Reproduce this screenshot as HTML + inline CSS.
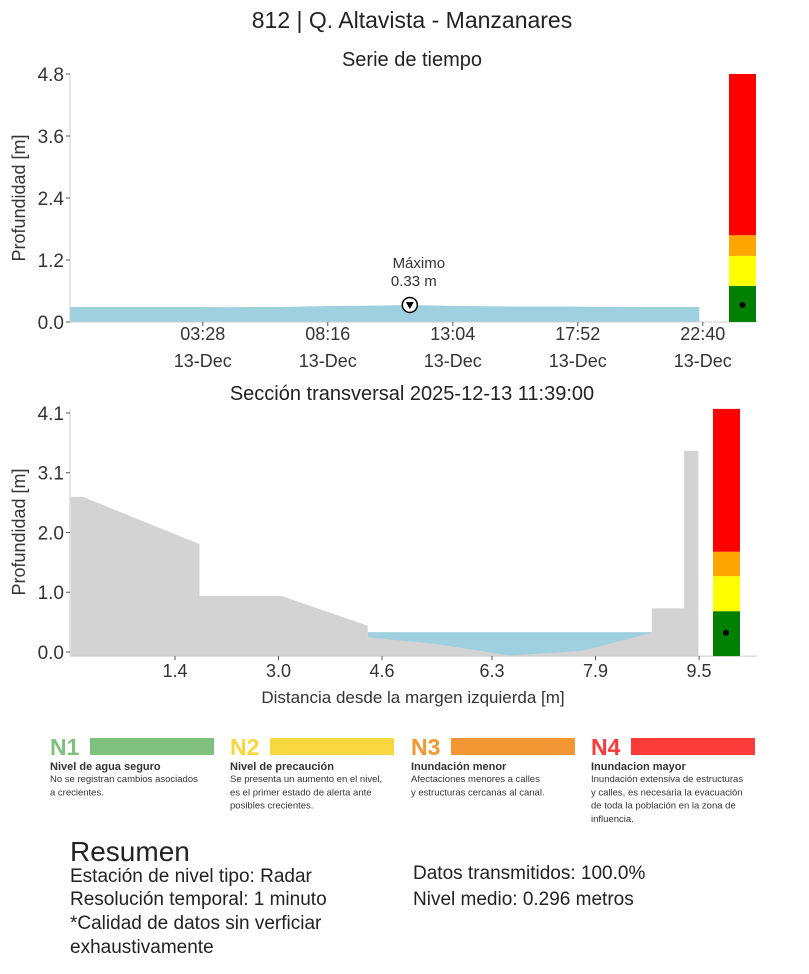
<!DOCTYPE html>
<html><head><meta charset="utf-8"><style>
body{margin:0;background:#fff;font-family:"Liberation Sans",sans-serif;}
svg text{font-family:"Liberation Sans",sans-serif;}
</style></head><body>
<svg id="s" width="809" height="969" xmlns="http://www.w3.org/2000/svg">
<text x="412" y="28" font-size="23" text-anchor="middle" fill="#222">812 | Q. Altavista - Manzanares</text>
<text x="412" y="66" font-size="20" text-anchor="middle" fill="#222">Serie de tiempo</text>
<text x="412" y="400" font-size="20" text-anchor="middle" fill="#222">Sección transversal 2025-12-13 11:39:00</text>
<text transform="translate(25,198) rotate(-90)" font-size="18" text-anchor="middle" fill="#333">Profundidad [m]</text>
<text transform="translate(25,532) rotate(-90)" font-size="18" text-anchor="middle" fill="#333">Profundidad [m]</text>
<text x="413" y="703" font-size="17" text-anchor="middle" fill="#333">Distancia desde la margen izquierda [m]</text>
<g id="topchart"></g>
<g id="botchart"></g>
<g id="legend"></g>
<g fill="#222">
<text x="70" y="861" font-size="28">Resumen</text>
<text x="70" y="882" font-size="19">Estación de nivel tipo: Radar</text>
<text x="70" y="905" font-size="19">Resolución temporal: 1 minuto</text>
<text x="70" y="929" font-size="19">*Calidad de datos sin verficiar</text>
<text x="70" y="953" font-size="19">exhaustivamente</text>
<text x="413" y="879" font-size="19">Datos transmitidos: 100.0%</text>
<text x="413" y="905" font-size="19">Nivel medio: 0.296 metros</text>
</g>
</svg>
<script>
// ---- time series data ----
const tsMinutes=[0,60,120,180,240,300,360,420,480,540,600,660,720,783,840,900,960,1020,1080,1140,1200,1260,1320,1380,1450];
const tsDepth=[0.29,0.29,0.29,0.29,0.29,0.29,0.285,0.29,0.29,0.30,0.31,0.315,0.32,0.33,0.32,0.31,0.305,0.30,0.30,0.30,0.295,0.295,0.29,0.29,0.29];
const tsTickMinutes=[306,594,882,1170,1458];
const tsTickLabels=["03:28","08:16","13:04","17:52","22:40"];
const topYTicks=[0,1.2,2.4,3.6,4.8];
const levelThresholds=[0,0.70,1.28,1.68,4.8];
const levelColors=["#008000","#ffff00","#ffa500","#ff0000"];
const currentLevel=0.33;
const maxValue=0.33, maxMinute=783;
// ---- cross section data ----
const groundX=[-0.21,-0.02,1.78,1.78,3.05,4.38,4.38,5.42,6.57,7.69,8.77,8.77,9.27,9.27,9.49,9.49];
const groundY=[2.66,2.66,1.85,0.96,0.96,0.45,0.25,0.14,-0.06,0.02,0.33,0.75,0.75,3.45,3.45,-0.07];
const waterLevel=0.34;
const waterFrom=4.38, waterTo=8.77;
const botXTicks=[1.4,3.0,4.6,6.3,7.9,9.5];
const botYTicks=[0,1.025,2.05,3.075,4.1];
const botYTickLabels=["0.0","1.0","2.0","3.1","4.1"];
const botLevels=[-0.07,0.70,1.30,1.72,4.17];

const NS="http://www.w3.org/2000/svg";
function mk(p,t,a){const el=document.createElementNS(NS,t);for(const k in a)el.setAttribute(k,a[k]);p.appendChild(el);return el;}
const tx=m=>70+m*0.434, ty=v=>322-v*51.67;
const topG=document.getElementById('topchart');
let d="M"+tx(tsMinutes[0])+","+ty(0);
tsMinutes.forEach((m,i)=>{d+=" L"+tx(m)+","+ty(tsDepth[i]);});
d+=" L"+tx(tsMinutes[tsMinutes.length-1])+","+ty(0)+"Z";
let el=mk(topG,'path',{d:d,fill:"#9ed0e0"});


el=mk(topG,'line',{x1:70,y1:ty(0),x2:757,y2:ty(0),stroke:"#ccc"});


el=mk(topG,'line',{x1:70,y1:ty(4.8),x2:70,y2:ty(0),stroke:"#ccc"});


topYTicks.forEach(v=>{
 mk(topG,'line',{x1:66,x2:70,y1:ty(v),y2:ty(v),stroke:"#555"});
 const t=mk(topG,'text',{x:64,y:ty(v)+7,"font-size":19,"text-anchor":"end",fill:"#333"});t.textContent=v.toFixed(1);
 
 
});
tsTickMinutes.forEach((m,i)=>{
 const x=tx(m);
 mk(topG,'line',{x1:x,x2:x,y1:ty(0),y2:ty(0)+4,stroke:"#555"});
 const t=mk(topG,'text',{x:x,y:340,"font-size":18,"text-anchor":"middle",fill:"#333"});t.textContent=tsTickLabels[i];
 
 
 const t2=mk(topG,'text',{x:x,y:367,"font-size":18,"text-anchor":"middle",fill:"#333"});t2.textContent="13-Dec";
 
 
});
for(let i=0;i<4;i++){
 const r=mk(topG,'rect',{x:729,width:27,y:ty(levelThresholds[i+1]),height:ty(levelThresholds[i])-ty(levelThresholds[i+1]),fill:levelColors[i]});
 
 
}
el=mk(topG,'circle',{cx:742.5,cy:ty(currentLevel),r:3,fill:"#000"});


const mx=tx(maxMinute), my=ty(maxValue);
el=mk(topG,'circle',{cx:mx,cy:my,r:7.5,fill:"#fff",stroke:"#000","stroke-width":1.5});


mk(topG,'path',{d:`M${mx-4},${my-3} L${mx+4},${my-3} L${mx},${my+4}Z`,fill:"#000"});
el=mk(topG,'text',{x:mx+9,y:my-37,"font-size":15,"text-anchor":"middle",fill:"#333"});el.textContent="Máximo";


el=mk(topG,'text',{x:mx+4,y:my-19,"font-size":15,"text-anchor":"middle",fill:"#333"});el.textContent=maxValue.toFixed(2)+" m";


// bottom
const bx=v=>84.4+v*64.7, by=v=>652-v*58.3;
const botG=document.getElementById('botchart');
el=mk(botG,'rect',{x:bx(waterFrom),y:by(waterLevel),width:bx(waterTo)-bx(waterFrom),height:by(-0.07)-by(waterLevel),fill:"#9ed0e0"});


d="M"+bx(groundX[0])+","+by(-0.07);
groundX.forEach((x,i)=>{d+=" L"+bx(x)+","+by(groundY[i]);});
d+="Z";
el=mk(botG,'path',{d:d,fill:"#d3d3d3"});


el=mk(botG,'line',{x1:70,y1:by(-0.07),x2:757,y2:by(-0.07),stroke:"#ccc"});


el=mk(botG,'line',{x1:70,y1:by(4.17),x2:70,y2:by(-0.07),stroke:"#ccc"});


botYTicks.forEach((v,i)=>{
 mk(botG,'line',{x1:66,x2:70,y1:by(v),y2:by(v),stroke:"#555"});
 const t=mk(botG,'text',{x:64,y:by(v)+7,"font-size":19,"text-anchor":"end",fill:"#333"});t.textContent=botYTickLabels[i];
 
 
});
botXTicks.forEach(v=>{
 const x=bx(v);
 mk(botG,'line',{x1:x,x2:x,y1:by(-0.07),y2:by(-0.07)+4,stroke:"#555"});
 const t=mk(botG,'text',{x:x,y:677,"font-size":18,"text-anchor":"middle",fill:"#333"});t.textContent=v.toFixed(1);
 
 
});
for(let i=0;i<4;i++){
 const r=mk(botG,'rect',{x:713,width:27,y:by(botLevels[i+1]),height:by(botLevels[i])-by(botLevels[i+1]),fill:levelColors[i]});
 
 
}
el=mk(botG,'circle',{cx:726,cy:by(currentLevel),r:3,fill:"#000"});


// legend
const legNames=["N1","N2","N3","N4"];
const legColors=["#7fc07f","#f8d83e","#f39634","#fb3a3a"];
const legTitles=["Nivel de agua seguro","Nivel de precaución","Inundación menor","Inundacion mayor"];
const legDesc=[["No se registran cambios asociados","a crecientes."],["Se presenta un aumento en el nivel,","es el primer estado de alerta ante","posibles crecientes."],["Afectaciones menores a calles","y estructuras cercanas al canal."],["Inundación extensiva de estructuras","y calles, es necesaria la evacuación","de toda la población en la zona de","influencia."]];
const legG=document.getElementById('legend');
const legX=[50,230,411,591];
legNames.forEach((n,i)=>{
 const x=legX[i];
 const a=mk(legG,'text',{x:x,y:755,"font-size":23,"font-weight":"bold",fill:legColors[i]});a.textContent=n;
 
 
 const b=mk(legG,'rect',{x:x+40,y:738,width:124,height:17,fill:legColors[i]});
 
 
 const c=mk(legG,'text',{x:x,y:770,"font-size":11,"font-weight":"bold",fill:"#333"});c.textContent=legTitles[i];
 
 
 legDesc[i].forEach((l,j)=>{
  const t=mk(legG,'text',{x:x,y:782+j*13.3,"font-size":9.5,fill:"#333"});t.textContent=l;
  
  
 });
});
</script>
</body></html>
